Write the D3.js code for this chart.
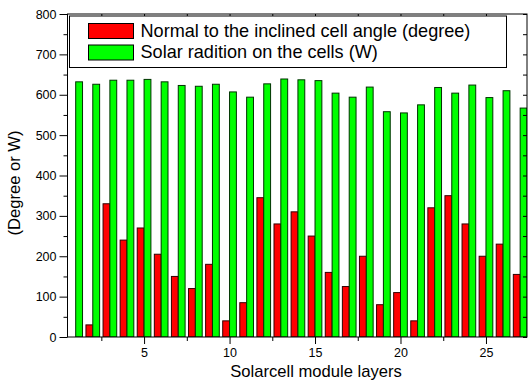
<!DOCTYPE html>
<html>
<head>
<meta charset="utf-8">
<script src="https://cdn.jsdelivr.net/npm/d3@7"></script>
<style>
html,body{margin:0;padding:0;background:#fff;}
svg{display:block;}
text{font-family:"Liberation Sans",Arial,sans-serif;fill:#000;}
</style>
</head>
<body>
<svg id="chart" width="528" height="382"></svg>
<script>
const layers = d3.range(1, 28);
const angleValues = [0,30,330,240,270,205,150,120,180,40,85,345,280,310,250,160,125,200,80,110,40,320,350,280,200,230,155];
const solarValues = [632,626,636,636,638,632,623,621,626,607,594,627,639,637,635,604,594,619,558,555,575,618,604,624,593,610,567];
const xTickValues = [5,10,15,20,25];
const yTickValues = [0,100,200,300,400,500,600,700,800];
const seriesNames = ["Normal to the inclined cell angle (degree)", "Solar radition on the cells (W)"];
const seriesColors = ["#ff0000", "#00ff00"];
const xTitle = "Solarcell module layers";
const yTitle = "(Degree or W)";

const svg = d3.select("#chart");
const L = 67.5, R = 527, T = 14, B = 337;
const x = d3.scaleLinear().domain([0.55, 27.4]).range([68, 527]);
const y = d3.scaleLinear().domain([0, 800]).range([B, T]);
const halfW = 0.4;

const plot = svg.append("g");
plot.append("defs").append("clipPath").attr("id","clip")
  .append("rect").attr("x", L).attr("y", T).attr("width", R - L).attr("height", B - T);

const bars = plot.append("g").attr("clip-path","url(#clip)");
const data = layers.map((l,i)=>({l, a: angleValues[i], s: solarValues[i]}));
bars.selectAll("rect.red").data(data.filter(d=>d.a>0)).join("rect")
  .attr("x", d => x(d.l - halfW)).attr("width", d => x(d.l) - x(d.l - halfW))
  .attr("y", d => y(d.a)).attr("height", d => y(0) - y(d.a))
  .attr("fill", seriesColors[0]).attr("stroke", "#300").attr("stroke-width", 1);
bars.selectAll("rect.green").data(data).join("rect")
  .attr("x", d => x(d.l)).attr("width", d => x(d.l + halfW) - x(d.l))
  .attr("y", d => y(d.s)).attr("height", d => y(0) - y(d.s))
  .attr("fill", seriesColors[1]).attr("stroke", "#030").attr("stroke-width", 1);

// axes
const fmt = d3.format("d");
const yAxisL = d3.axisLeft(y).tickValues(yTickValues).tickSize(8).tickPadding(3).tickFormat(fmt);
svg.append("g").attr("transform", `translate(${L},0)`).call(yAxisL);
const yMinor = d3.range(50, 800, 100);
svg.append("g").attr("transform", `translate(${L},0)`)
  .call(d3.axisLeft(y).tickValues(yMinor).tickSize(4).tickFormat(""));
const xAxisB = d3.axisBottom(x).tickValues(xTickValues).tickSize(7).tickPadding(4).tickFormat(fmt);
svg.append("g").attr("transform", `translate(0,${B})`).call(xAxisB);
const xMinor = [2.5,7.5,12.5,17.5,22.5];
svg.append("g").attr("transform", `translate(0,${B})`)
  .call(d3.axisBottom(x).tickValues(xMinor).tickSize(4).tickFormat(""));
// top & right inward ticks
svg.append("g").attr("transform", `translate(0,${T})`)
  .call(d3.axisBottom(x).tickValues(xTickValues.concat(xMinor)).tickSize(4).tickFormat(""));
svg.append("g").attr("transform", `translate(${R},0)`)
  .call(d3.axisLeft(y).tickValues(yTickValues.concat(yMinor)).tickSize(4).tickFormat(""));

svg.selectAll(".domain").remove();
svg.selectAll(".tick line").attr("stroke", "#000").attr("stroke-width", 1);
svg.selectAll(".tick text").style("font-size", "12.5px").style("font-family", "'Liberation Sans',Arial,sans-serif").attr("fill", "#000");

// frame
svg.append("rect").attr("x", L).attr("y", T).attr("width", R - L).attr("height", B - T)
  .attr("fill", "none").attr("stroke", "#000").attr("stroke-width", 1);

// legend
const leg = svg.append("g");
leg.append("rect").attr("x", 69.5).attr("y", 16).attr("width", 437).attr("height", 51.5)
  .attr("fill", "#fff").attr("stroke", "#000").attr("stroke-width", 1);
seriesNames.forEach((n, i) => {
  const yy = 23.5 + i * 21.5;
  leg.append("rect").attr("x", 88.5).attr("y", yy).attr("width", 45).attr("height", 15)
    .attr("fill", seriesColors[i]).attr("stroke", "#000").attr("stroke-width", 1);
  leg.append("text").attr("x", 140.5).attr("y", yy + 13.3).style("font-size", "18.1px").text(n);
});

// titles
svg.append("text").attr("x", 316).attr("y", 377).attr("text-anchor", "middle")
  .style("font-size", "16.6px").text(xTitle);
svg.append("text").attr("transform", "translate(20,183) rotate(-90)").attr("text-anchor", "middle")
  .style("font-size", "16.6px").text(yTitle);
</script>
</body>
</html>
